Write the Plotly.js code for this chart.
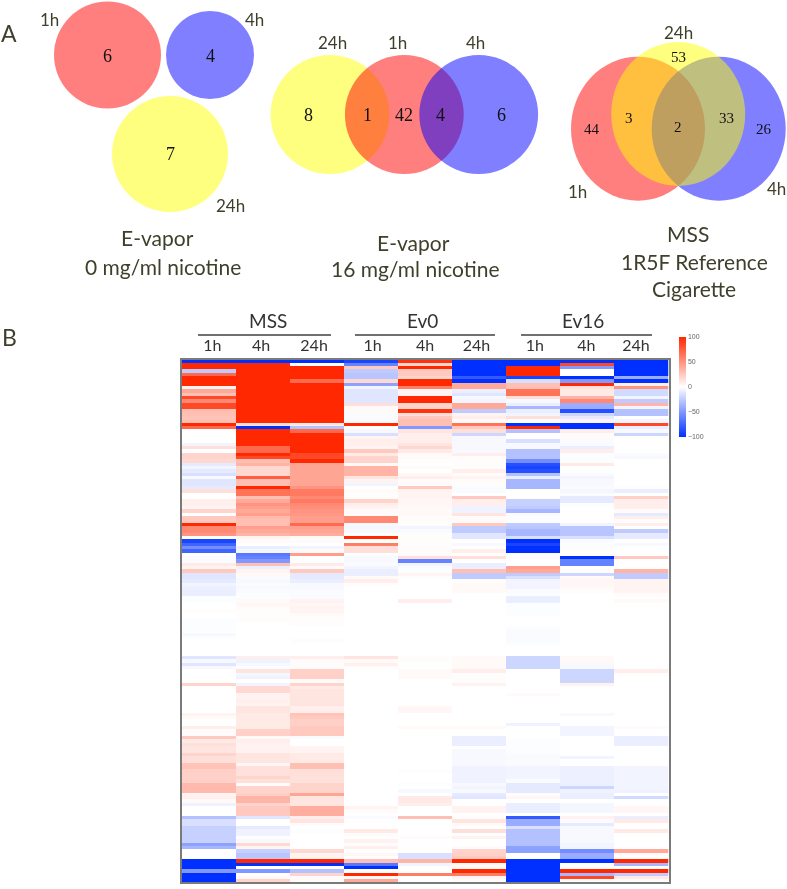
<!DOCTYPE html>
<html>
<head>
<meta charset="utf-8">
<script src="https://cdn.plot.ly/plotly-3.0.1.min.js"></script>
<style>html,body{margin:0;padding:0;background:#fff}#chart{width:787px;height:889px;filter:blur(0.4px)}</style>
</head>
<body>
<div id="chart"></div>
<script>
// ---------- Panel B data: one list of 157 rows per sample ----------
const hourLabels = ['1h','4h','24h','1h','4h','24h','1h','4h','24h'];
const groupNames = ['MSS','Ev0','Ev16'];
const colorbarTicks = [-100,-50,0,50,100];

const mss1h = [-100,100,100,-25,70,100,100,100,5,40,
30,85,55,85,85,30,30,28,30,100,
70,0,0,0,0,-5,15,0,20,20,
18,-10,-5,-10,-15,-3,-12,-12,-10,15,
0,0,7,7,5,20,0,25,25,100,
55,55,50,0,-90,-75,-55,-75,0,-2,
-2,10,5,25,-12,-12,-10,-5,-7,-8,
-8,-1,-1,0,0,1,0,0,-1,-1,
-1,-1,-3,-1,0,0,0,0,0,-12,
-3,-12,-3,0,0,0,0,20,0,0,
0,0,0,0,0,0,5,3,0,0,
8,2,2,25,10,15,12,12,20,15,
15,28,28,22,22,22,22,32,32,32,
5,7,3,-6,0,0,0,-30,-15,-15,
-22,-22,-22,-22,-22,-45,-35,0,0,0,
-100,-100,-100,-50,-100,-100,-100];
const mss4h = [-100,100,100,100,100,100,100,100,100,100,
100,100,100,100,100,100,100,100,100,15,
-100,100,100,100,100,100,70,70,100,85,
30,35,18,18,18,75,30,30,100,65,
65,30,40,50,45,40,45,32,30,30,
45,40,35,5,2,0,-8,-4,-65,-60,
-50,30,-7,5,3,-2,-3,-2,-3,-2,
-1,-1,3,4,2,1,1,1,1,0,
0,0,0,0,0,0,0,0,0,8,
-6,-3,-1,12,-4,-6,0,-5,18,18,
6,6,7,6,12,12,10,10,10,10,
10,22,22,3,8,6,6,6,12,12,
12,4,14,14,14,20,14,2,20,20,
22,35,35,20,25,25,25,-12,0,0,
-10,-6,-6,0,-3,18,5,-22,-28,-28,
100,-100,0,-50,0,3,20];
const mss24h = [-100,0,100,100,100,100,70,100,100,100,
100,100,100,100,100,100,100,100,100,10,
-30,70,100,100,100,100,100,100,85,85,
100,42,42,42,42,42,42,42,50,62,
62,55,62,55,52,50,48,45,45,70,
45,42,38,3,2,0,-5,3,45,0,
-1,10,2,25,-10,-10,-8,-3,-3,-2,
-2,-2,6,4,5,5,3,1,1,1,
0,0,0,0,1,0,0,0,0,8,
2,2,2,22,22,22,3,20,10,12,
12,12,12,12,8,8,28,25,22,22,
25,25,25,-2,0,0,5,5,10,10,
10,30,30,15,15,14,14,20,20,20,
42,12,12,12,38,38,38,8,12,2,
0,-1,0,0,0,0,0,18,5,5,
100,-100,0,-30,20,2,2];
const ev0_1h = [-90,-60,25,-25,-28,-28,18,-45,-5,-12,
-12,-12,-12,15,3,3,-2,-2,-2,100,
0,-3,-15,5,8,8,5,25,10,20,
20,3,35,35,35,12,5,-5,0,2,
1,1,20,8,6,2,2,55,55,-3,
-4,-3,0,100,0,60,15,15,-1,-3,
-3,-2,-5,-8,-8,3,8,1,0,0,
0,0,0,0,0,0,0,0,0,0,
0,0,0,0,0,0,0,0,0,12,
3,7,1,0,0,0,0,0,0,0,
0,0,0,0,0,0,0,0,0,0,
0,0,0,0,0,0,0,0,0,0,
0,0,0,0,0,0,0,0,0,0,
0,0,0,0,5,2,0,-2,0,0,
0,10,2,0,6,1,7,0,4,0,
30,-65,-100,0,100,3,40];
const ev0_4h = [95,20,100,25,25,20,100,100,60,5,
5,100,100,20,20,95,15,25,30,30,
-50,12,8,8,8,12,18,10,3,2,
1,0,2,0,4,8,2,2,25,5,
5,5,4,4,3,3,3,1,1,1,
-5,-2,1,1,1,1,1,2,2,15,
-60,-5,-2,-1,5,1,0,0,0,0,
0,0,8,0,0,0,0,0,0,0,
0,0,0,0,0,0,0,0,0,1,
1,0,0,3,3,3,0,0,0,0,
0,0,0,0,4,4,0,0,0,0,
3,0,0,0,0,0,0,0,0,0,
0,0,0,-1,0,0,0,-1,0,-3,
0,10,10,8,0,0,0,30,0,0,
0,0,0,2,0,0,0,0,-15,-15,
35,-5,0,0,60,0,0];
const ev0_24h = [-100,-100,-100,-100,-100,-80,-100,40,40,-8,
-12,-3,-5,40,40,-25,5,8,3,65,
25,15,-20,-3,-3,-3,-3,-3,8,1,
1,1,1,8,2,5,2,1,-2,-2,
0,25,8,8,-6,-6,12,2,2,25,
-25,-25,-12,-12,0,-3,0,8,1,15,
0,-8,-8,30,-25,-25,1,3,3,3,
0,0,0,0,0,0,0,0,0,0,
0,0,0,0,0,0,0,0,0,3,
3,3,3,8,1,1,1,6,0,0,
0,0,0,0,0,0,0,0,0,0,
3,0,0,-8,-8,-8,0,-3,-3,-3,
-3,-3,-6,-6,-6,-6,-6,-3,-5,-3,
-10,-12,0,0,6,6,0,1,12,3,
0,15,0,6,0,0,2,20,22,25,
100,3,3,100,60,5,2];
const ev16_1h = [-100,-100,100,100,100,-90,-15,30,30,65,
65,15,-3,-8,-35,-8,-5,15,0,-100,
100,-30,0,0,-15,-3,-3,-30,-30,-30,
-55,-85,-90,-85,-30,-8,-35,-35,-35,0,
0,0,-22,-22,-25,-35,-2,-1,-1,-25,
-28,-35,-35,-15,-100,-90,-100,-100,1,-1,
0,0,45,40,-25,-15,-5,-5,-5,-2,
-1,-8,-8,-1,-1,-1,-1,0,0,0,
-1,-2,-2,-2,-2,-1,0,0,0,-20,
-20,-20,-20,0,0,0,0,0,0,0,
2,0,0,0,0,0,0,0,0,-6,
0,0,0,0,-1,-1,-1,-1,-2,-2,
-2,-2,-5,-5,-5,-5,-2,-10,-10,-10,
-1,4,0,-8,-8,-8,0,-80,-40,-40,
-15,-30,-30,-30,-30,-30,-45,-45,0,0,
-100,-100,-100,-100,-100,-100,-100];
const ev16_4h = [-100,85,-50,0,0,-100,-50,100,15,10,
10,35,55,-40,-40,-85,-20,-10,5,-100,
-100,8,2,2,-2,-2,-8,8,-1,-1,
-1,10,0,0,-2,-5,-3,-3,-2,-4,
-2,-10,-10,-1,0,0,0,0,0,-5,
-28,-28,-28,-15,-2,-1,-1,1,1,-100,
-60,-60,0,1,-20,3,4,4,3,1,
0,0,0,0,0,0,0,0,0,0,
0,0,0,0,0,0,0,0,0,3,
3,-3,-3,-20,-20,-20,-20,6,0,0,
0,0,0,0,0,0,-3,0,0,0,
-5,-5,-5,0,0,0,0,0,0,-5,
0,0,-7,-7,-7,-7,-7,-7,-20,-6,
-8,-8,0,-4,-4,-4,0,6,-2,-10,
-3,-3,-3,-3,-3,-5,-5,-55,-40,-40,
-100,0,0,100,-35,85,2];
const ev16_24h = [-100,-100,-100,-100,-100,-40,-100,8,50,-18,
-18,-5,-25,35,-5,-30,-30,0,-5,85,
-8,-3,-20,0,0,0,0,0,-2,-3,
0,0,0,0,0,0,0,0,1,-8,
0,22,8,8,8,2,-10,8,1,8,
0,-25,-10,-10,0,-3,0,0,0,25,
0,0,0,35,-25,-25,5,5,5,5,
2,0,3,0,0,0,0,0,0,0,
0,0,0,0,0,0,0,0,0,0,
0,0,0,8,1,0,0,0,0,0,
0,0,0,0,0,0,0,0,0,0,
2,0,0,-8,-8,-8,0,0,0,0,
0,0,-5,-5,-5,-5,-5,-5,-5,-6,
0,-18,0,0,4,4,0,-8,10,0,
0,10,0,0,0,0,0,40,2,0,
100,-35,0,100,-25,10,2];

// ---------- Panel A data ----------
const vennNoNicotineCounts = ['6','4','7'];
const vennNicotineCounts = ['8','1','42','4','6'];
const vennCigaretteCounts = ['53','3','44','2','33','26'];
const vennNoNicotineTitle = ['E-vapor','0 mg/ml nicotine'];
const vennNicotineTitle = ['E-vapor','16 mg/ml nicotine'];
const vennCigaretteTitle = ['MSS','1R5F Reference','Cigarette'];

// ---------- Layout helpers (page pixels to paper fractions) ----------
const W = 787, H = 889;
const fx = x => x / W;
const fy = y => 1 - y / H;
const RED = '#ff0000', BLUE = '#0000ff', YEL = '#ffff00';
const INK = '#3f3f2b';
const SANS = 'Lato, "Open Sans", sans-serif';
const SERIF = '"Liberation Serif", serif';

function ell(cx, cy, rx, ry, color) {
  return {type:'circle', xref:'paper', yref:'paper', layer:'above',
    x0:fx(cx-rx), x1:fx(cx+rx), y0:fy(cy+ry), y1:fy(cy-ry),
    fillcolor:color, opacity:0.5, line:{width:0}};
}
function txt(text, x, y, size, family, color) {
  return {text, xref:'paper', yref:'paper', x:fx(x), y:fy(y), xanchor:'center', yanchor:'middle',
    showarrow:false, font:{size, family, color}};
}

const shapes = [
  ell(107.5,55,53.5,53.5,RED), ell(210,55,44,44,BLUE), ell(170,154,58,58,YEL),
  ell(330,114.5,59.4,59.4,YEL), ell(404.3,114.5,59.4,59.4,RED), ell(478.7,114.5,59.4,59.4,BLUE),
  ell(638,128.7,67,72,RED), ell(718.7,128.7,67,72,BLUE), ell(678.2,114,67,72,YEL),
  {type:'line',xref:'paper',yref:'paper',x0:fx(198),x1:fx(331),y0:fy(335),y1:fy(335),line:{color:'#404040',width:1.5}},
  {type:'line',xref:'paper',yref:'paper',x0:fx(355),x1:fx(495),y0:fy(335),y1:fy(335),line:{color:'#404040',width:1.5}},
  {type:'line',xref:'paper',yref:'paper',x0:fx(521),x1:fx(652),y0:fy(335),y1:fy(335),line:{color:'#404040',width:1.5}}
];

const annotations = [
  txt('A',9,33,23,SANS,INK), txt('B',9,337,23,SANS,INK),
  txt(vennNoNicotineCounts[0],107.5,56,18,SERIF,'#111'),
  txt(vennNoNicotineCounts[1],210,56,18,SERIF,'#111'),
  txt(vennNoNicotineCounts[2],170,154,18,SERIF,'#111'),
  txt('1h',49,19,17,SANS,INK), txt('4h',255,19,17,SANS,INK), txt('24h',230,206,17,SANS,INK),
  txt(vennNoNicotineTitle[0],157,238,21,SANS,INK), txt(vennNoNicotineTitle[1],163,266,21,SANS,INK),

  txt(vennNicotineCounts[0],308,115,18,SERIF,'#111'),
  txt(vennNicotineCounts[1],367,115,18,SERIF,'#111'),
  txt(vennNicotineCounts[2],404,115,18,SERIF,'#111'),
  txt(vennNicotineCounts[3],441,115,18,SERIF,'#111'),
  txt(vennNicotineCounts[4],501,115,18,SERIF,'#111'),
  txt('24h',332,42,17,SANS,INK), txt('1h',397,42,17,SANS,INK), txt('4h',475,43,17,SANS,INK),
  txt(vennNicotineTitle[0],413,242,21,SANS,INK), txt(vennNicotineTitle[1],415,268,21,SANS,INK),

  txt(vennCigaretteCounts[0],678,57,15,SERIF,'#111'),
  txt(vennCigaretteCounts[1],629,118,15,SERIF,'#111'),
  txt(vennCigaretteCounts[2],592,129,15,SERIF,'#111'),
  txt(vennCigaretteCounts[3],678,127,15,SERIF,'#111'),
  txt(vennCigaretteCounts[4],726,118,15,SERIF,'#111'),
  txt(vennCigaretteCounts[5],764,129,15,SERIF,'#111'),
  txt('24h',678,32,17,SANS,INK), txt('1h',577,192,17,SANS,INK), txt('4h',776,188,17,SANS,INK),
  txt(vennCigaretteTitle[0],688,233,21,SANS,INK), txt(vennCigaretteTitle[1],694,261,21,SANS,INK), txt(vennCigaretteTitle[2],694,288,21,SANS,INK),

  txt(groupNames[0],268,320,19,SANS,'#333'), txt(groupNames[1],422,320,19,SANS,'#333'), txt(groupNames[2],583,320,19,SANS,'#333')
];

const columns = [mss1h,mss4h,mss24h,ev0_1h,ev0_4h,ev0_24h,ev16_1h,ev16_4h,ev16_24h];
const z = mss1h.map((_, r) => columns.map(c => c[r]));
const xIdx = hourLabels.map((_, i) => i);
const yIdx = mss1h.map((_, i) => i);
// hour labels sit slightly off the column centres in the reference
const hourTickPositions = [0.07,0.97,1.95,3.03,4.0,4.95,6.03,6.98,7.9];

const trace = {
  type:'heatmap', x:xIdx, y:yIdx, z, zmin:-100, zmax:100, zsmooth:false, hoverongaps:false,
  colorscale:[[0,'#0030ff'],[0.5,'#ffffff'],[1,'#ff2800']],
  colorbar:{
    x:fx(679), xanchor:'left', xpad:0, y:fy(337), yanchor:'top', ypad:0,
    thicknessmode:'pixels', thickness:7, lenmode:'pixels', len:100,
    outlinewidth:0, borderwidth:0, ticks:'', tickvals:colorbarTicks,
    tickfont:{size:7, color:'#666', family:'"Liberation Sans", sans-serif'}
  }
};

const layout = {
  width:W, height:H, margin:{l:0,r:0,t:0,b:0,pad:0},
  paper_bgcolor:'#fff', plot_bgcolor:'#fff', showlegend:false,
  xaxis:{domain:[fx(181.5),fx(668.5)], range:[-0.5,8.5], side:'top', anchor:'y',
    tickmode:'array', tickvals:hourTickPositions, ticktext:hourLabels, ticks:'', ticklen:0, showgrid:false, zeroline:false,
    tickfont:{size:16,family:SANS,color:'#333'}, showline:true, mirror:true, linecolor:'#7a7a7a', linewidth:2},
  yaxis:{domain:[fy(882),fy(359.5)], range:[156.5,-0.5], anchor:'x', showticklabels:false, ticks:'', showgrid:false,
    zeroline:false, showline:true, mirror:true, linecolor:'#7a7a7a', linewidth:2},
  shapes, annotations,
  font:{family:SANS}
};

Plotly.newPlot('chart',[trace],layout,{displayModeBar:false,responsive:false});
</script>
</body>
</html>
